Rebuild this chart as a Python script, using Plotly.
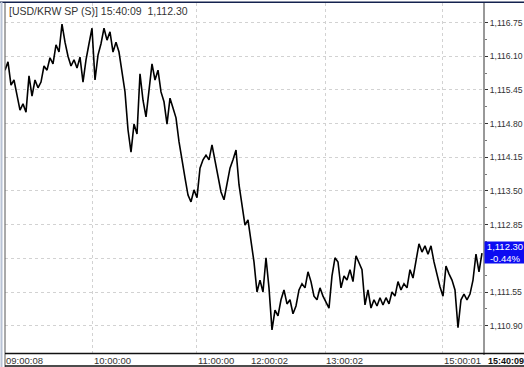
import plotly.graph_objects as go

# ---- data ----
prices = [
    1115.83, 1115.99, 1115.54, 1115.64, 1115.35, 1115.06, 1115.18, 1115.02, 1115.72, 1115.33,
    1115.64, 1115.49, 1115.60, 1115.91, 1115.83, 1116.07, 1115.95, 1116.32, 1116.18, 1116.72,
    1116.37, 1116.10, 1115.91, 1116.03, 1115.87, 1116.08, 1115.60, 1116.03, 1116.34, 1116.64,
    1115.64, 1116.12, 1116.34, 1116.64, 1116.41, 1116.57, 1116.18, 1116.37, 1116.18, 1115.83,
    1115.41, 1114.68, 1114.25, 1114.79, 1114.60, 1115.76, 1115.25, 1114.93, 1115.45, 1115.95,
    1115.64, 1115.83, 1115.41, 1115.22, 1114.79, 1115.29, 1115.10, 1114.91, 1114.45, 1114.06,
    1113.75, 1113.42, 1113.29, 1113.52, 1113.37, 1113.94, 1114.10, 1114.19, 1114.10, 1114.39,
    1114.10, 1113.75, 1113.48, 1113.33, 1113.67, 1113.94, 1114.10, 1114.29, 1113.62, 1113.23,
    1112.84, 1112.94, 1112.55, 1112.13, 1111.55, 1111.78, 1111.55, 1112.21, 1111.63, 1110.82,
    1111.20, 1111.09, 1111.40, 1111.59, 1111.32, 1111.40, 1111.13, 1111.28, 1111.59, 1111.71,
    1111.63, 1111.94, 1111.75, 1111.47, 1111.40, 1111.63, 1111.47, 1111.36, 1111.24, 1111.86,
    1112.21, 1112.13, 1111.63, 1111.86, 1111.78, 1111.98, 1111.75, 1112.25, 1112.13, 1111.98,
    1111.30, 1111.59, 1111.24, 1111.40, 1111.28, 1111.44, 1111.30, 1111.44, 1111.32, 1111.55,
    1111.47, 1111.75, 1111.59, 1111.71, 1111.63, 1111.98, 1111.82, 1112.13, 1112.48, 1112.32,
    1112.44, 1112.28, 1112.44, 1112.13, 1111.86, 1111.65, 1111.47, 1112.05, 1111.90, 1111.78,
    1111.59, 1110.86, 1111.40, 1111.51, 1111.40, 1111.51, 1111.78, 1112.28, 1111.94, 1112.30,
]
tick_index = list(range(len(prices)))

y_ticks = [1116.75, 1116.10, 1115.45, 1114.80, 1114.15, 1113.50, 1112.85, 1112.20, 1111.55, 1110.90]
# the 1,112.20 label is covered by the last-price box in the reference
y_tick_text = ["1,116.75", "1,116.10", "1,115.45", "1,114.80", "1,114.15",
               "1,113.50", "1,112.85", "", "1,111.55", "1,110.90"]

x_label_pos = [0, 29.2, 63.9, 81.7, 106.7, 145.9]
x_label_text = ["09:00:08", "10:00:00", "11:00:00", "12:00:02", "13:00:02", "15:00:01"]
x_grid_pos = [29.2, 63.9, 106.7, 145.9]

last_time = "15:40:09"
last_price = 1112.30
last_price_text = "1,112.30"
change_text = "-0.44%"
title_text = "[USD/KRW SP (S)] 15:40:09  1,112.30"

y_range = [1110.373, 1117.126]
x_range = [0, 159.67]

W, H = 524, 367
ML, MR, MT, MB = 5, 40, 3, 14
PW, PH = W - ML - MR, H - MT - MB


def px(xp):
    return (xp - ML) / PW


def py(yp):
    return (H - MB - yp) / PH


FONT = "Liberation Sans, Arial, sans-serif"
minor_vals = [(a + b) / 2 for a, b in zip(y_ticks[:-1], y_ticks[1:])]

fig = go.Figure()
fig.add_trace(go.Scatter(
    x=tick_index, y=prices, mode="lines",
    line=dict(color="#000000", width=1.6),
    hoverinfo="skip", showlegend=False,
))

fig.update_layout(
    width=W, height=H,
    margin=dict(l=ML, r=MR, t=MT, b=MB),
    paper_bgcolor="#ffffff", plot_bgcolor="#ffffff",
    font=dict(family=FONT, size=10, color="#333333"),
    showlegend=False,
    xaxis=dict(
        range=x_range, tickmode="array", tickvals=x_grid_pos,
        showticklabels=False, ticks="", automargin=False,
        showgrid=True, gridcolor="#d2d2d2", griddash="dot", gridwidth=1,
        zeroline=False, showline=False, fixedrange=True,
    ),
    yaxis=dict(
        range=y_range, side="right", automargin=False,
        tickmode="array", tickvals=y_ticks, ticktext=y_tick_text,
        ticks="outside", ticklen=3, tickcolor="#333333", tickwidth=1,
        minor=dict(tickmode="array", tickvals=minor_vals, ticks="outside",
                   ticklen=2, tickcolor="#777777", showgrid=False),
        tickfont=dict(family=FONT, size=8.6, color="#333333"),
        showgrid=True, gridcolor="#d2d2d2", griddash="dot", gridwidth=1,
        zeroline=False, showline=False, fixedrange=True,
    ),
)

shapes = []
# top dark frame line
shapes.append(dict(type="line", xref="paper", yref="paper",
                   x0=px(0), x1=px(W), y0=py(2.2), y1=py(2.2),
                   line=dict(color="#14224f", width=1.5)))
# left outer light line
shapes.append(dict(type="line", xref="paper", yref="paper",
                   x0=px(1.5), x1=px(1.5), y0=py(2), y1=py(H),
                   line=dict(color="#b9c3d6", width=2)))
# left plot border
shapes.append(dict(type="line", xref="paper", yref="paper",
                   x0=px(5), x1=px(5), y0=py(3), y1=py(H),
                   line=dict(color="#555555", width=1)))
# right axis line
shapes.append(dict(type="line", xref="paper", yref="paper",
                   x0=1, x1=1, y0=py(3), y1=py(355),
                   line=dict(color="#333333", width=1)))
# bottom axis line
shapes.append(dict(type="line", xref="paper", yref="paper",
                   x0=px(5), x1=px(W), y0=py(353.5), y1=py(353.5),
                   line=dict(color="#111111", width=1.3)))
# bottom edge line
shapes.append(dict(type="line", xref="paper", yref="paper",
                   x0=px(5), x1=px(W), y0=py(366), y1=py(366),
                   line=dict(color="#111111", width=1.3)))
fig.update_layout(shapes=shapes)

ann = []
ann.append(dict(text=title_text, xref="paper", yref="paper",
                x=px(7), y=py(10.5), xanchor="left", yanchor="middle",
                showarrow=False, font=dict(family=FONT, size=10.5, color="#333333")))
for pos, txt in zip(x_label_pos, x_label_text):
    ann.append(dict(text=txt, xref="x", yref="paper", x=pos, y=py(360.5),
                    xanchor="left", yanchor="middle", showarrow=False,
                    xshift=-1,
                    font=dict(family=FONT, size=9.5, color="#333333")))
ann.append(dict(text="<b>" + last_time + "</b>", xref="paper", yref="paper",
                x=px(486), y=py(360.5), xanchor="left", yanchor="middle",
                showarrow=False, font=dict(family=FONT, size=9, color="#111111")))
ann.append(dict(text=last_price_text + "<br>" + change_text,
                xref="paper", yref="y", x=1, y=last_price,
                xanchor="left", yanchor="middle", yshift=1,
                width=40, height=21, borderpad=0, align="center",
                bgcolor="#0c0cf2", showarrow=False,
                font=dict(family=FONT, size=9.5, color="#ffffff")))
fig.update_layout(annotations=ann)

fig.write_html("out.html")
